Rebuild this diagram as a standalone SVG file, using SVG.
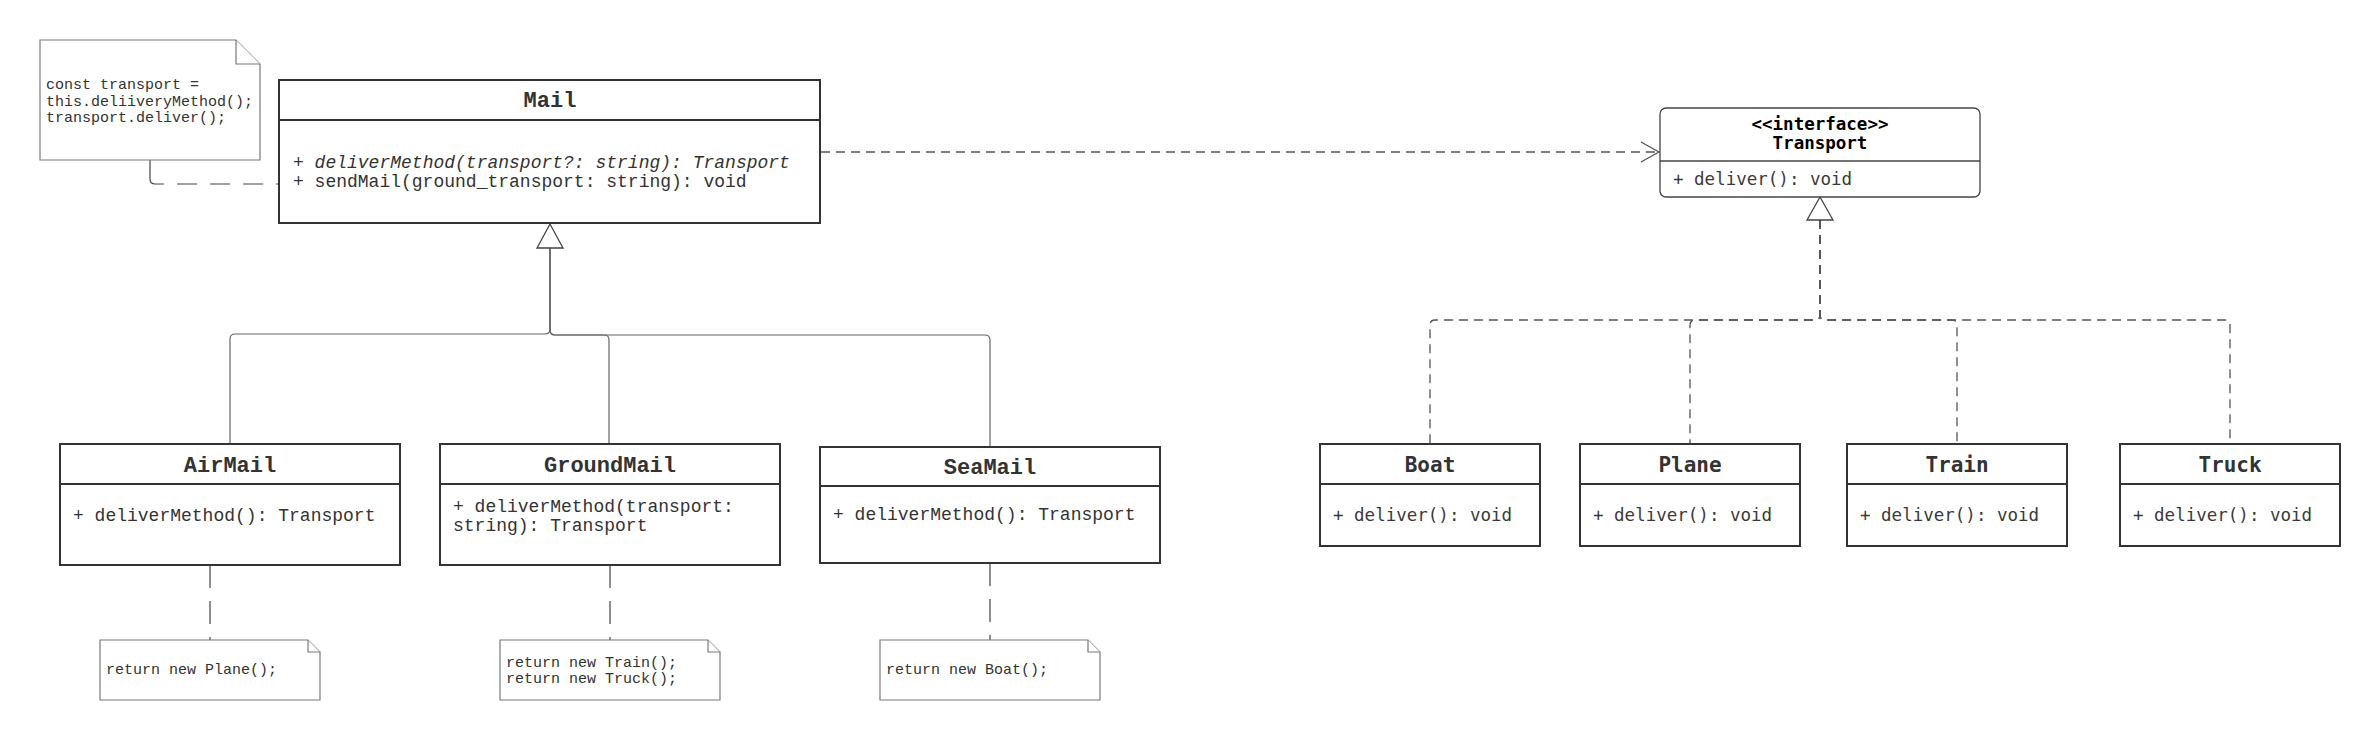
<svg xmlns="http://www.w3.org/2000/svg" width="2380" height="740" viewBox="0 0 2380 740">
<defs>
<style>
.box{fill:#fff;stroke:#333;stroke-width:2}
.ibox{fill:#fff;stroke:#444;stroke-width:1.3}
.div{stroke:#333;stroke-width:2;fill:none}
.idiv{stroke:#444;stroke-width:1.3;fill:none}
.note{fill:#fff;stroke:#7a7a7a;stroke-width:1.2}
.ttl{font-family:"Liberation Mono",monospace;font-weight:bold;font-size:22px;fill:#333;text-anchor:middle}
.mem{font-family:"Liberation Mono",monospace;font-size:18px;fill:#333}
.rttl{font-family:"DejaVu Sans Mono",monospace;font-weight:bold;font-size:21px;fill:#333;text-anchor:middle}
.rmem{font-family:"DejaVu Sans Mono",monospace;font-size:17.5px;fill:#3a3a3a}
.itl{font-family:"DejaVu Sans Mono",monospace;font-weight:bold;font-size:17.5px;fill:#000;text-anchor:middle}
.ntxt{font-family:"Liberation Mono",monospace;font-size:15px;fill:#333}
.gen{fill:none;stroke:#666;stroke-width:1.2}
.real{fill:none;stroke:#555;stroke-width:1.3;stroke-dasharray:9 6}
.dep{fill:none;stroke:#555;stroke-width:1.3;stroke-dasharray:9 6}
.anc{fill:none;stroke:#444;stroke-width:1.2;stroke-dasharray:23 13}
.anc2{fill:none;stroke:#444;stroke-width:1.2;stroke-dasharray:36 13 20 13 20 13 20 13 30}
.tri{fill:#fff;stroke:#444;stroke-width:1.3}
</style>
</defs>
<rect width="2380" height="740" fill="#fff"/>

<g id="connectors">
  <path class="gen" d="M550,248 V329 Q550,334 545,334 H235 Q230,334 230,339 V444"/>
  <path class="gen" d="M550,248 V330 Q550,335 555,335 H604 Q609,335 609,340 V444"/>
  <path class="gen" d="M550,248 V330 Q550,335 555,335 H985 Q990,335 990,340 V447"/>
  <polygon class="tri" points="550,224 537,248 563,248"/>

  <path class="real" d="M1820,220 V315 Q1820,320 1815,320 H1435 Q1430,320 1430,325 V444"/>
  <path class="real" d="M1820,220 V315 Q1820,320 1815,320 H1695 Q1690,320 1690,325 V444"/>
  <path class="real" d="M1820,220 V315 Q1820,320 1825,320 H1952 Q1957,320 1957,325 V444"/>
  <path class="real" d="M1820,220 V315 Q1820,320 1825,320 H2225 Q2230,320 2230,325 V444"/>
  <polygon class="tri" points="1820,197 1807,220 1833,220"/>

  <path class="dep" d="M821,152 H1658"/>
  <polyline fill="none" stroke="#555" stroke-width="1.3" points="1641,142 1659,152 1641,162"/>

  <path class="anc2" d="M150,160 V179 Q150,184 155,184 H279"/>
  <path class="anc" d="M210,565 V640"/>
  <path class="anc" d="M610,565 V640"/>
  <path class="anc" d="M990,563 V640"/>
</g>

<g id="note-mail">
  <path class="note" d="M40,40 H236 L260,64 V160 H40 Z"/>
  <path class="note" d="M236,40 V64 H260"/>
  <text class="ntxt" x="46" y="89">const transport =</text>
  <text class="ntxt" x="46" y="106">this.deliiveryMethod();</text>
  <text class="ntxt" x="46" y="122">transport.deliver();</text>
</g>

<g id="Mail">
  <rect class="box" x="279" y="80" width="541" height="143"/>
  <line class="div" x1="279" y1="120" x2="820" y2="120"/>
  <text class="ttl" x="550" y="107">Mail</text>
  <text class="mem" x="293" y="168">+ <tspan font-style="italic">deliverMethod(transport?: string): Transport</tspan></text>
  <text class="mem" x="293" y="187">+ sendMail(ground_transport: string): void</text>
</g>

<g id="Transport">
  <rect class="ibox" x="1660" y="108" width="320" height="89" rx="6" ry="6"/>
  <line class="idiv" x1="1660" y1="161" x2="1980" y2="161"/>
  <text class="itl" x="1820" y="130">&lt;&lt;interface&gt;&gt;</text>
  <text class="itl" x="1820" y="149">Transport</text>
  <text class="rmem" x="1673" y="185">+ deliver(): void</text>
</g>

<g id="AirMail">
  <rect class="box" x="60" y="444" width="340" height="121"/>
  <line class="div" x1="60" y1="484" x2="400" y2="484"/>
  <text class="ttl" x="230" y="472">AirMail</text>
  <text class="mem" x="73" y="521">+ deliverMethod(): Transport</text>
</g>

<g id="GroundMail">
  <rect class="box" x="440" y="444" width="340" height="121"/>
  <line class="div" x1="440" y1="484" x2="780" y2="484"/>
  <text class="ttl" x="610" y="472">GroundMail</text>
  <text class="mem" x="453" y="512">+ deliverMethod(transport:</text>
  <text class="mem" x="453" y="531">string): Transport</text>
</g>

<g id="SeaMail">
  <rect class="box" x="820" y="447" width="340" height="116"/>
  <line class="div" x1="820" y1="486" x2="1160" y2="486"/>
  <text class="ttl" x="990" y="474">SeaMail</text>
  <text class="mem" x="833" y="520">+ deliverMethod(): Transport</text>
</g>

<g id="note-airmail">
  <path class="note" d="M100,640 H308 L320,652 V700 H100 Z"/>
  <path class="note" d="M308,640 V652 H320"/>
  <text class="ntxt" x="106" y="674">return new Plane();</text>
</g>

<g id="note-groundmail">
  <path class="note" d="M500,640 H708 L720,652 V700 H500 Z"/>
  <path class="note" d="M708,640 V652 H720"/>
  <text class="ntxt" x="506" y="667">return new Train();</text>
  <text class="ntxt" x="506" y="683">return new Truck();</text>
</g>

<g id="note-seamail">
  <path class="note" d="M880,640 H1088 L1100,652 V700 H880 Z"/>
  <path class="note" d="M1088,640 V652 H1100"/>
  <text class="ntxt" x="886" y="674">return new Boat();</text>
</g>

<g id="Boat">
  <rect class="box" x="1320" y="444" width="220" height="102"/>
  <line class="div" x1="1320" y1="484" x2="1540" y2="484"/>
  <text class="rttl" x="1430" y="472">Boat</text>
  <text class="rmem" x="1333" y="521">+ deliver(): void</text>
</g>

<g id="Plane">
  <rect class="box" x="1580" y="444" width="220" height="102"/>
  <line class="div" x1="1580" y1="484" x2="1800" y2="484"/>
  <text class="rttl" x="1690" y="472">Plane</text>
  <text class="rmem" x="1593" y="521">+ deliver(): void</text>
</g>

<g id="Train">
  <rect class="box" x="1847" y="444" width="220" height="102"/>
  <line class="div" x1="1847" y1="484" x2="2067" y2="484"/>
  <text class="rttl" x="1957" y="472">Train</text>
  <text class="rmem" x="1860" y="521">+ deliver(): void</text>
</g>

<g id="Truck">
  <rect class="box" x="2120" y="444" width="220" height="102"/>
  <line class="div" x1="2120" y1="484" x2="2340" y2="484"/>
  <text class="rttl" x="2230" y="472">Truck</text>
  <text class="rmem" x="2133" y="521">+ deliver(): void</text>
</g>
</svg>
